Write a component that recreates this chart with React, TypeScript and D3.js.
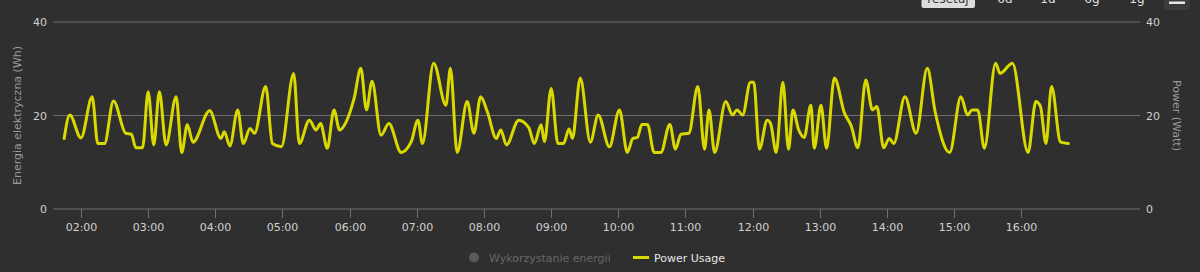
import React from "react";
import * as d3 from "d3";

const times: string[] = [
  "01:45","01:50","02:00","02:10","02:15","02:21","02:29","02:40","02:45","02:49",
  "02:55","03:00","03:05","03:10","03:16","03:25","03:30","03:35","03:40","03:55",
  "04:05","04:08","04:13","04:20","04:25","04:31","04:35","04:45","04:51","04:59",
  "05:10","05:15","05:24","05:30","05:34","05:40","05:46","05:51","05:57","06:04",
  "06:10","06:15","06:20","06:28","06:35","06:46","06:55","07:01","07:05","07:15",
  "07:26","07:30","07:36","07:45","07:51","07:57","08:03","08:11","08:15","08:20",
  "08:31","08:40","08:45","08:51","08:54","09:00","09:06","09:11","09:16","09:19",
  "09:26","09:35","09:42","09:52","10:01","10:08","10:13","10:17","10:21","10:26",
  "10:32","10:38","10:46","10:51","10:56","11:03","11:11","11:17","11:21","11:26",
  "11:36","11:42","11:46","11:51","11:58","12:01","12:06","12:13","12:16","12:21",
  "12:27","12:32","12:36","12:41","12:46","12:52","12:55","13:01","13:06","13:13",
  "13:22","13:28","13:34","13:41","13:47","13:51","13:57","14:02","14:06","14:16",
  "14:26","14:36","14:43","14:56","15:06","15:12","15:16","15:21","15:27","15:37",
  "15:41","15:52","16:06","16:13","16:17","16:22","16:27","16:35","16:42"
];

const powerUsage: number[] = [
  15.1,20.1,15.2,24,14,14,23.1,16.2,16,13.1,
  13.1,25.1,13.7,25.1,13.7,24,12.1,18,14.3,21,
  15.1,16.5,13.5,21.2,14,17.2,16.2,26.2,14,13.3,
  29,14,19,16.9,18.3,13,21.2,16.9,18.7,23.7,
  30.1,21.2,27.3,15.8,18.3,12.1,14.4,19,14,31.2,
  22.2,30.1,12.1,23,16.2,24,20.8,15.1,16.9,13.7,
  19,17.4,14,18,14.4,25.8,14,14,17.1,15.1,
  28,14.3,20.1,13.3,21.2,12.1,15.1,15.3,18.1,18.1,
  12.1,12.1,18.1,12.8,16,16.2,26.2,12.8,21.2,12.1,
  23,20.1,21.2,20.1,27.1,27.1,12.8,19,18.3,12.1,
  27.1,12.8,21.2,17,15.3,22.2,13,22.2,13,28,
  20.5,17.8,13.1,27.6,21.2,21.9,13.1,15.1,14,24,
  16.2,30.1,20.8,12.1,24,20.1,21.2,21.2,13,31.2,
  29,31.2,12.1,23,22,14,26.2,14.3,14
];

const xTickLabels: string[] = [
  "02:00","03:00","04:00","05:00","06:00","07:00","08:00","09:00",
  "10:00","11:00","12:00","13:00","14:00","15:00","16:00"
];
const yTicks: number[] = [0, 20, 40];
const rangeButtons: string[] = ["6d", "1d", "6g", "1g"];
const legendItems: string[] = ["Wykorzystanie energii", "Power Usage"];

const W = 1200;
const H = 272;
const FONT = "'DejaVu Sans', sans-serif";

const toDate = (s: string) => {
  const [h, m] = s.split(":").map(Number);
  return new Date(2024, 0, 1, h, m);
};

export default function App() {
  const left = 53;
  const right = 1140;
  const top = 22;
  const bottom = 209;

  const x = d3
    .scaleTime()
    .domain([new Date(2024, 0, 1, 1, 35.9), new Date(2024, 0, 1, 17, 46.3)])
    .range([left, right]);
  const y = d3.scaleLinear().domain([0, 40]).range([bottom, top]);

  const data = times.map((t, i) => ({ t: toDate(t), v: powerUsage[i] }));
  const line = d3
    .line<{ t: Date; v: number }>()
    .x((d) => x(d.t))
    .y((d) => y(d.v))
    .curve(d3.curveMonotoneX);

  const btnX = [1005, 1048, 1092, 1137];

  return (
    <div style={{ position: "fixed", left: 0, top: 0 }}>
      <svg width={W} height={H} style={{ display: "block" }}>
        <rect x={0} y={0} width={W} height={H} fill="#2f2f2f" />

        {/* gridlines */}
        {yTicks.map((t) => (
          <line
            key={"g" + t}
            x1={left}
            x2={right}
            y1={y(t)}
            y2={y(t)}
            stroke="#6e6e6e"
            strokeWidth={1}
          />
        ))}

        {/* left y labels */}
        {yTicks.map((t) => (
          <text
            key={"yl" + t}
            x={47}
            y={y(t) + 4}
            textAnchor="end"
            fill="#d0d0d0"
            fontSize={11}
            fontFamily={FONT}
          >
            {t}
          </text>
        ))}
        {/* right y labels */}
        {yTicks.map((t) => (
          <text
            key={"yr" + t}
            x={1146}
            y={y(t) + 4}
            textAnchor="start"
            fill="#d0d0d0"
            fontSize={11}
            fontFamily={FONT}
          >
            {t}
          </text>
        ))}

        {/* axis titles */}
        <text
          transform={`translate(21, ${(top + bottom) / 2}) rotate(-90)`}
          textAnchor="middle"
          fill="#9a9a9a"
          fontSize={11}
          fontFamily={FONT}
        >
          Energia elektryczna (Wh)
        </text>
        <text
          transform={`translate(1173, ${(top + bottom) / 2}) rotate(90)`}
          textAnchor="middle"
          fill="#9a9a9a"
          fontSize={11}
          fontFamily={FONT}
        >
          Power (Watt)
        </text>

        {/* x ticks */}
        {xTickLabels.map((s) => {
          const px = Math.round(x(toDate(s))) + 0.5;
          return (
            <g key={"x" + s}>
              <line x1={px} x2={px} y1={bottom} y2={bottom + 9} stroke="#6e6e6e" />
              <text
                x={px}
                y={bottom + 22}
                textAnchor="middle"
                fill="#d0d0d0"
                fontSize={11}
                fontFamily={FONT}
              >
                {s}
              </text>
            </g>
          );
        })}

        {/* series */}
        <path
          d={line(data) || ""}
          fill="none"
          stroke="#d9d900"
          strokeWidth={3}
          strokeLinejoin="round"
          strokeLinecap="round"
        />

        {/* top-right controls */}
        <rect x={921.5} y={-6} width={53.5} height={14} rx={2} fill="#dcdcdc" />
        <text x={948} y={3} textAnchor="middle" fill="#333" fontSize={12} fontFamily={FONT}>
          resetuj
        </text>
        {rangeButtons.map((b, i) => (
          <text
            key={b}
            x={btnX[i]}
            y={3}
            textAnchor="middle"
            fill="#e0e0e0"
            fontSize={12}
            fontFamily={FONT}
          >
            {b}
          </text>
        ))}
        <rect x={1165} y={-6} width={24} height={15} rx={2} fill="#3a3a3a" stroke="#444" />
        <rect x={1169} y={1.5} width={16} height={2.5} fill="#e8e8e8" />

        {/* legend */}
        <circle cx={474} cy={257.5} r={5} fill="#5a5a5a" />
        <text x={489} y={262} fill="#666" fontSize={11} fontFamily={FONT}>
          {legendItems[0]}
        </text>
        <line x1={633} x2={649} y1={257.5} y2={257.5} stroke="#d9d900" strokeWidth={3} />
        <text x={654} y={262} fill="#e6e6e6" fontSize={11} fontFamily={FONT}>
          {legendItems[1]}
        </text>
      </svg>
    </div>
  );
}
